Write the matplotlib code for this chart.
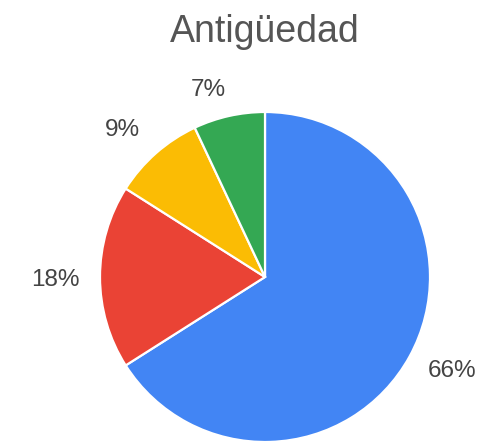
import matplotlib
matplotlib.use("Agg")
import matplotlib.pyplot as plt

# data
labels = ["66%", "18%", "9%", "7%"]
values = [66, 18, 9, 7]
colors = ["#4285F4", "#EA4335", "#FBBC04", "#34A853"]
title = "Antigüedad"

# where the labels sit (pixels, y from the bottom)
label_pos = [(452, 74), (55, 165), (122, 315), (208, 355)]

plt.rcParams['font.family'] = ['Liberation Sans', 'DejaVu Sans']

fig = plt.figure(figsize=(4.97, 4.45), dpi=100)
ax = fig.add_axes([0, 0, 1, 1])

# pie in pixel units
wedges, texts = ax.pie(values, labels=labels, colors=colors, startangle=90,
                       counterclock=False, center=(265, 168), radius=165,
                       labeldistance=1.25,
                       wedgeprops={'edgecolor': 'white', 'linewidth': 1.6},
                       textprops={'fontsize': 17.5, 'color': '#444444'})
for t, p in zip(texts, label_pos):
    t.set_position(p)
    t.set_ha('center')
    t.set_va('center')

ax.set_xlim(0, 497)
ax.set_ylim(0, 445)
ax.set_aspect('equal')
ax.axis('off')

fig.text(265 / 497, 1 - 32 / 445, title, ha='center', va='center',
         fontsize=27, color='#555555')

fig.savefig("out.png", dpi=100)
